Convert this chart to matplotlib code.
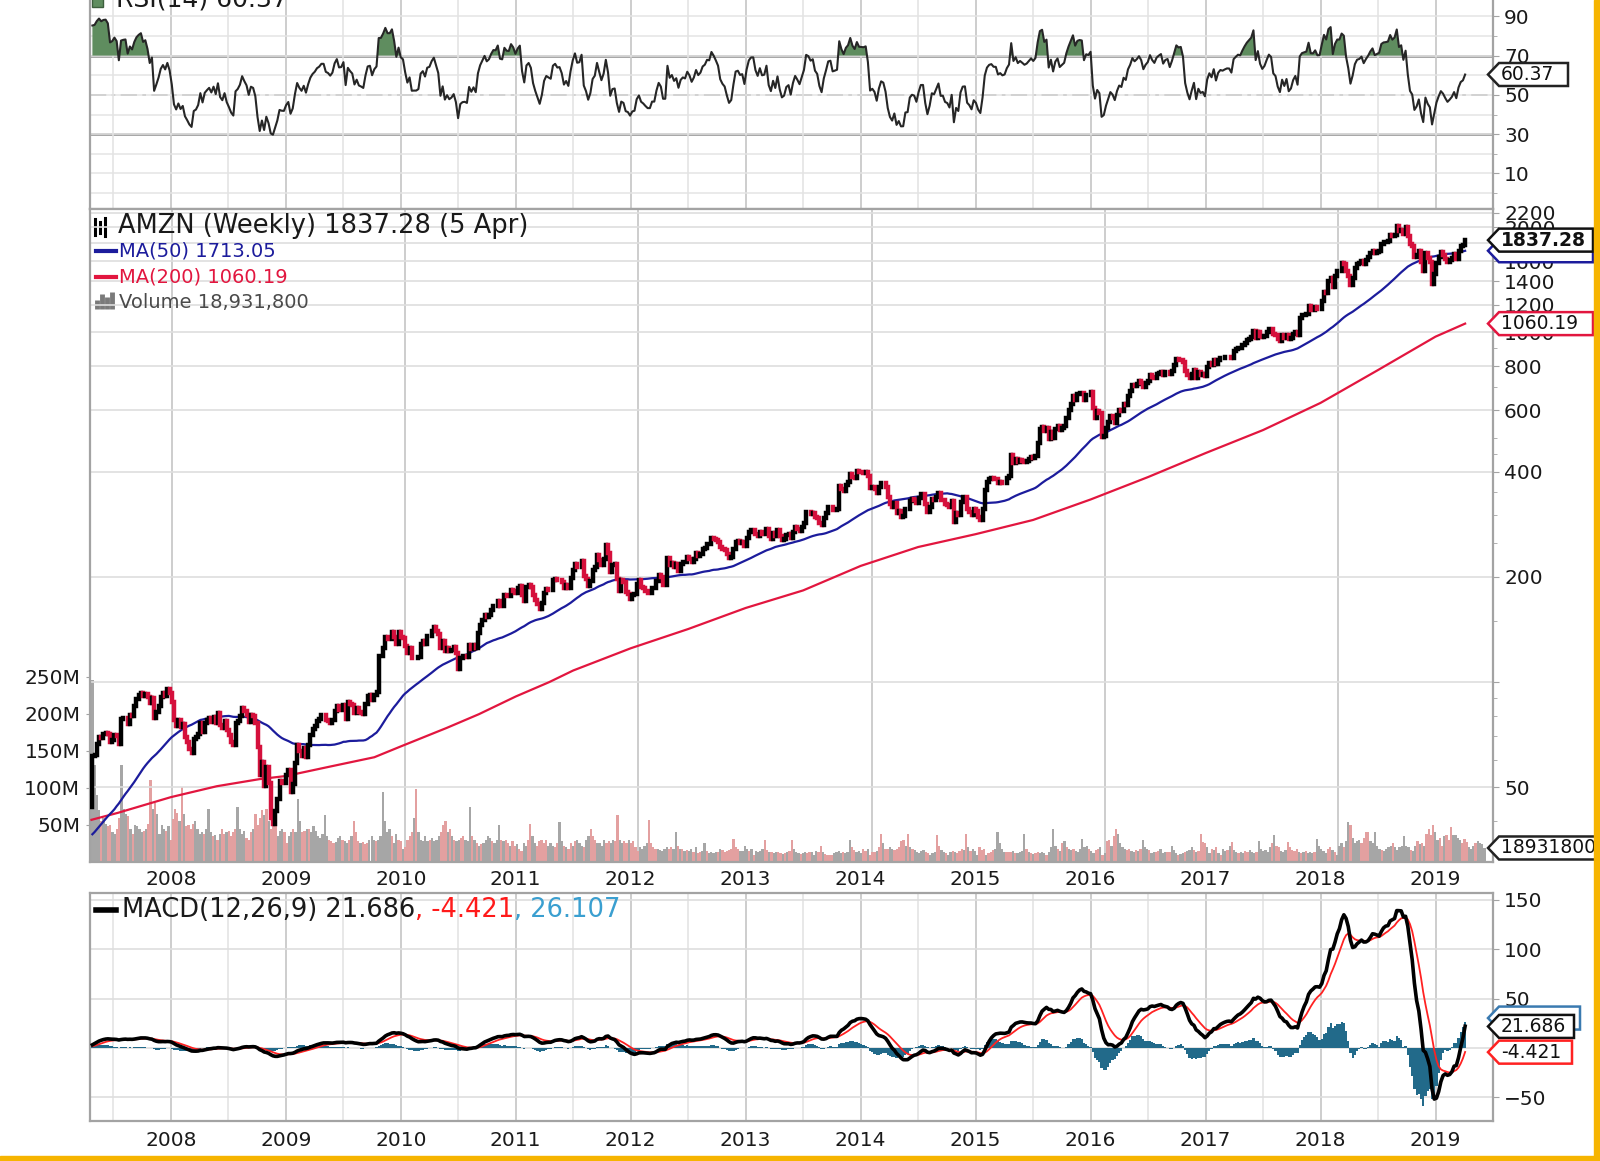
import numpy as np
import pandas as pd
import matplotlib
matplotlib.use("Agg")
import matplotlib.pyplot as plt
from matplotlib.patches import Polygon, Rectangle
from matplotlib.lines import Line2D
from matplotlib.ticker import FixedLocator, NullFormatter

W, H = 1600, 1161
plt.rcParams["font.family"] = ["DejaVu Sans"]

# weekly closes (USD); one year of pre-history feeds MA(50)/RSI/MACD
PRE_2006 = [35.2, 35.6, 34.6, 34.6, 36.4, 35.4, 34.9, 35.9, 38.7, 37.0, 35.2, 35.8, 26.3,
            26.8, 28.2, 30.3, 30.8, 31.0, 31.2, 31.7, 32.4, 32.1, 32.4, 31.9, 31.4, 37.0,
            38.7, 40.0, 39.5, 40.3, 40.0, 38.5, 39.7, 39.0, 39.5, 38.7, 37.8, 37.5, 37.6,
            36.0, 37.8, 39.5, 40.0, 38.9, 39.7, 38.5, 40.4, 39.8, 40.0, 41.9, 44.0]
C2007 = [61.3, 62.0, 66.4, 69.9, 69.4, 71.1, 71.5, 70.9, 67.6, 68.4, 70.6, 70.0, 66.4, 78.3,
         78.9, 79.2, 76.0, 80.6, 79.9, 85.2, 89.3, 91.6, 93.2, 91.2, 92.5, 90.5, 87.0, 90.0,
         79.0, 82.0, 85.5, 90.6, 93.0, 91.5, 95.5, 93.0]
C2008 = [87.7, 78.0, 75.0, 77.7, 74.6, 75.9, 69.9, 67.4, 64.5, 62.8, 68.9, 69.5, 71.3, 76.5,
         72.0, 76.5, 77.8, 78.9, 77.0, 79.6, 76.6, 81.6, 75.6, 74.1, 77.2, 73.0, 70.5, 67.6,
         66.0, 76.4, 77.6, 79.8, 84.5, 82.5, 80.8, 76.7, 80.6, 80.1, 76.6, 65.3, 54.3, 59.0,
         50.6, 57.2, 51.6, 40.9, 39.3, 42.7, 46.4, 52.2, 51.6, 51.5]
C2009 = [54.4, 56.0, 48.4, 51.0, 58.8, 66.1, 63.4, 61.7, 64.8, 61.1, 66.3, 70.7, 73.3, 74.9,
         77.4, 78.5, 80.5, 80.5, 77.7, 77.3, 76.4, 77.9, 82.9, 85.5, 83.0, 83.2, 85.8, 78.4,
         87.9, 86.7, 85.8, 81.7, 84.1, 81.9, 81.5, 81.0, 86.6, 91.5, 91.9, 88.9, 92.0, 93.5,
         118.5, 118.8, 125.0, 135.0, 133.0, 133.0, 139.3, 135.0, 128.5, 139.0]
C2010 = [134.5, 133.5, 127.1, 121.4, 125.4, 117.4, 117.5, 117.5, 118.4, 128.9, 130.9, 128.3,
         135.1, 135.8, 140.5, 143.6, 140.4, 137.1, 125.0, 131.2, 122.6, 125.5, 122.8, 123.8,
         125.8, 121.0, 109.1, 117.3, 118.5, 118.7, 118.0, 127.6, 124.8, 127.6, 124.9, 138.4,
         145.8, 150.7, 155.8, 153.1, 155.2, 160.9, 165.3, 165.2, 170.8, 165.1, 164.8, 177.3,
         176.0, 175.9, 183.9, 182.6, 180.0]
C2011 = [185.5, 188.8, 177.4, 171.1, 186.6, 189.3, 186.6, 177.2, 171.7, 166.9, 161.8, 168.3,
         180.1, 184.9, 183.9, 183.1, 195.8, 197.9, 195.8, 196.2, 193.0, 186.5, 189.2, 186.4,
         198.1, 209.5, 218.3, 212.9, 213.5, 222.5, 201.5, 196.7, 188.8, 194.9, 209.5, 213.5,
         231.0, 223.6, 216.2, 224.7, 246.7, 234.8, 206.8, 216.5, 217.4, 197.1, 182.4, 196.0,
         194.0, 180.5, 179.0, 173.1]
C2012 = [177.6, 178.4, 190.9, 195.4, 187.7, 185.5, 182.5, 180.0, 180.0, 185.5, 185.5, 195.0,
         202.5, 199.5, 189.0, 189.0, 226.9, 215.6, 219.5, 213.9, 217.3, 208.2, 217.8, 221.0,
         220.1, 228.4, 225.5, 220.3, 225.0, 233.8, 230.0, 232.8, 240.0, 242.2, 248.3, 248.0,
         259.1, 257.0, 254.3, 251.3, 243.0, 240.0, 238.2, 232.1, 226.5, 228.4, 239.9, 252.1,
         253.0, 250.4, 251.1, 245.2]
C2013 = [258.5, 268.9, 272.7, 272.8, 265.5, 261.9, 269.5, 265.1, 265.7, 274.4, 261.8, 257.2,
         266.5, 261.1, 272.5, 262.1, 254.8, 256.4, 264.2, 266.0, 258.3, 269.2, 276.9, 274.0,
         270.6, 277.7, 285.6, 307.0, 306.1, 303.0, 305.0, 297.3, 295.0, 286.0, 280.9, 294.6,
         304.3, 316.8, 317.9, 310.0, 310.9, 312.0, 363.4, 356.6, 352.4, 366.4, 373.0, 393.6,
         386.9, 384.0, 402.2, 398.1]
C2014 = [397.9, 397.7, 399.6, 387.6, 358.7, 361.1, 357.4, 346.8, 362.1, 372.1, 370.6, 360.6,
         338.5, 323.7, 317.1, 324.9, 303.8, 308.0, 297.6, 297.7, 312.2, 312.6, 329.7, 333.2,
         332.2, 324.6, 336.0, 345.0, 345.1, 324.0, 307.1, 316.8, 333.0, 331.6, 339.0, 346.4,
         331.2, 331.3, 323.4, 322.0, 316.4, 330.0, 287.1, 305.5, 299.9, 327.8, 338.1, 338.6,
         312.0, 307.5, 299.9, 313.0]
C2015 = [308.5, 296.9, 290.7, 312.4, 354.5, 374.3, 381.8, 383.7, 380.2, 380.1, 370.6, 373.2,
         370.6, 372.1, 382.7, 389.5, 445.1, 423.0, 433.7, 426.0, 431.4, 429.2, 426.9, 429.4,
         434.9, 440.1, 437.7, 443.5, 483.0, 529.4, 536.2, 522.6, 531.5, 494.5, 518.0, 499.0,
         529.4, 540.3, 526.1, 532.5, 538.8, 570.8, 599.0, 625.9, 659.4, 642.4, 668.5, 673.3,
         672.6, 640.2, 664.1, 662.8]
C2016 = [675.9, 607.1, 570.2, 596.4, 587.0, 502.1, 507.1, 534.1, 555.2, 577.5, 569.6, 552.1,
         579.9, 598.5, 594.6, 625.9, 620.5, 659.6, 679.1, 709.9, 702.8, 712.2, 725.5, 717.9,
         699.6, 715.6, 725.7, 753.8, 744.9, 739.6, 758.8, 766.6, 772.6, 757.3, 769.2, 772.4,
         760.1, 778.5, 804.7, 837.3, 834.1, 836.5, 822.9, 776.3, 755.1, 739.0, 760.2, 780.4,
         740.3, 768.7, 757.8, 760.6, 749.9]
C2017 = [795.9, 817.1, 808.3, 835.7, 810.1, 836.5, 846.6, 845.2, 849.3, 852.5, 852.3, 845.6,
         886.5, 894.9, 902.4, 901.5, 918.4, 934.3, 948.9, 959.8, 971.5, 1011.3, 964.9, 1003.7,
         978.8, 968.0, 978.8, 1001.8, 1024.4, 1020.0, 987.6, 982.0, 958.5, 945.3, 980.6, 965.9,
         986.8, 956.7, 964.7, 989.6, 1002.9, 982.9, 1100.9, 1120.7, 1125.4, 1130.0, 1187.0,
         1162.4, 1162.0, 1179.1, 1168.4, 1169.5]
C2018 = [1229.1, 1305.2, 1294.6, 1402.1, 1429.9, 1350.5, 1448.7, 1500.0, 1500.3, 1578.9,
         1571.7, 1495.6, 1447.3, 1371.0, 1430.8, 1527.8, 1572.6, 1580.0, 1603.0, 1574.4,
         1610.2, 1641.5, 1684.0, 1715.7, 1690.0, 1699.8, 1710.6, 1796.6, 1813.7, 1817.3,
         1823.3, 1896.2, 1882.2, 1905.4, 2012.7, 1952.1, 1970.2, 1915.0, 2003.0, 1889.7,
         1788.6, 1764.0, 1642.8, 1665.5, 1712.4, 1593.4, 1502.1, 1690.2, 1629.1, 1591.9,
         1377.5, 1470.9]
C2019 = [1575.4, 1640.6, 1696.2, 1670.6, 1626.2, 1588.2, 1608.0, 1631.6, 1671.7, 1620.8,
         1712.4, 1764.8, 1780.8, 1837.28]

# weekly volume, millions of shares
V2007 = [246, 131, 90, 70, 55, 60, 52, 48, 50, 40, 38, 45, 60, 131, 72, 65, 62, 45, 38, 50,
         48, 44, 40, 42, 45, 52, 111, 72, 80, 65, 38, 50, 45, 42, 48, 30]
V2008 = [58, 72, 66, 55, 101, 65, 48, 50, 45, 52, 55, 45, 38, 40, 38, 45, 72, 40, 35, 36, 30,
         38, 45, 38, 40, 42, 35, 40, 45, 74, 45, 38, 42, 32, 30, 40, 45, 65, 50, 60, 70, 63,
         72, 55, 45, 55, 58, 35, 42, 45, 40, 25]
V2009 = [35, 40, 45, 40, 85, 55, 40, 42, 45, 45, 40, 48, 42, 35, 32, 38, 63, 35, 30, 28, 25,
         27, 32, 35, 30, 28, 25, 30, 35, 55, 40, 28, 25, 27, 24, 25, 30, 35, 30, 28, 30, 35,
         95, 55, 40, 45, 35, 25, 38, 30, 28, 18]
V2010 = [20, 30, 35, 40, 60, 99, 40, 30, 28, 35, 28, 30, 32, 28, 30, 35, 40, 50, 55, 40, 45,
         35, 30, 28, 30, 32, 35, 30, 28, 74, 35, 30, 25, 22, 24, 25, 30, 35, 32, 28, 25, 30,
         50, 30, 28, 30, 25, 22, 28, 22, 24, 18, 15]
V2011 = [25, 22, 30, 52, 35, 25, 22, 28, 30, 25, 30, 22, 25, 22, 20, 25, 54, 28, 22, 20, 18,
         25, 22, 28, 30, 25, 22, 20, 30, 35, 45, 35, 30, 25, 25, 22, 30, 25, 28, 25, 30, 28,
         63, 30, 25, 28, 25, 30, 25, 28, 20, 15]
V2012 = [20, 18, 22, 25, 57, 25, 20, 18, 18, 16, 15, 18, 20, 18, 20, 18, 40, 22, 18, 17, 15,
         16, 15, 17, 14, 20, 12, 14, 15, 25, 15, 12, 13, 12, 13, 14, 18, 16, 14, 15, 16, 18,
         31, 20, 18, 15, 15, 22, 18, 15, 17, 10]
V2013 = [15, 14, 15, 18, 30, 16, 13, 14, 12, 13, 14, 12, 11, 12, 14, 15, 30, 18, 13, 12, 11,
         12, 13, 12, 14, 13, 10, 15, 14, 22, 14, 11, 10, 10, 9, 12, 13, 15, 12, 13, 12, 14,
         30, 20, 16, 14, 15, 12, 18, 15, 17, 10]
V2014 = [13, 14, 15, 20, 38, 25, 18, 17, 20, 18, 16, 18, 20, 28, 30, 22, 38, 20, 18, 16, 14,
         12, 15, 16, 14, 12, 10, 12, 14, 36, 22, 16, 14, 12, 10, 14, 15, 14, 12, 15, 18, 16,
         38, 20, 15, 18, 15, 10, 20, 16, 18, 10]
V2015 = [12, 14, 16, 18, 40, 25, 18, 14, 13, 14, 13, 15, 12, 12, 14, 15, 38, 18, 14, 12, 11,
         12, 13, 12, 14, 12, 10, 14, 20, 45, 22, 18, 15, 25, 28, 20, 18, 16, 18, 15, 14, 18,
         31, 20, 22, 18, 15, 12, 16, 18, 20, 10]
V2016 = [12, 28, 30, 22, 35, 45, 38, 25, 20, 18, 16, 17, 15, 14, 16, 15, 18, 30, 20, 18, 16,
         12, 14, 13, 15, 18, 12, 14, 13, 14, 22, 16, 12, 10, 11, 12, 14, 15, 16, 20, 16, 14,
         15, 38, 27, 25, 20, 12, 18, 16, 20, 12, 10]
V2017 = [18, 15, 16, 22, 27, 16, 14, 12, 13, 12, 15, 14, 16, 14, 12, 13, 28, 18, 15, 16, 14,
         20, 25, 36, 22, 20, 15, 14, 16, 27, 20, 16, 15, 18, 14, 12, 13, 15, 12, 13, 12, 14,
         31, 22, 18, 15, 12, 18, 20, 16, 14, 10]
V2018 = [22, 25, 20, 28, 54, 50, 32, 25, 28, 30, 26, 32, 40, 40, 28, 25, 40, 22, 18, 16, 15,
         18, 20, 22, 25, 20, 16, 20, 22, 35, 22, 20, 16, 15, 22, 28, 24, 26, 22, 38, 45, 36,
         50, 40, 30, 32, 22, 35, 36, 30, 47, 36]
V2019 = [36, 32, 30, 25, 31, 27, 20, 18, 22, 25, 28, 26, 24, 18.93]

# MA(200) (fractional year, value)
MA200_T = [2007.31, 2007.54, 2008.0, 2008.4, 2008.77, 2009.0, 2009.4, 2009.77, 2010.0, 2010.4,
           2010.68, 2011.0, 2011.29, 2011.5, 2012.0, 2012.5, 2013.0, 2013.5, 2014.0, 2014.5,
           2015.0, 2015.5, 2016.0, 2016.5, 2017.0, 2017.5, 2018.0, 2018.5, 2019.0, 2019.2575]
MA200_V = [40.4, 42.3, 46.9, 50.4, 52.8, 53.9, 57.5, 61.0, 65.5, 74.0, 81.0, 91.0, 100.0,
           108.0, 125.0, 141.9, 163.0, 183.0, 215.0, 243.5, 265.0, 291.0, 333.0, 386.0, 452.0,
           526.0, 629.0, 781.0, 973.0, 1060.19]

YEARS = list(range(2008, 2020))
PRICE_TICKS = [50, 100, 200, 400, 600, 800, 1000, 1200, 1400, 1600, 1800, 2000, 2200]
PRICE_LABELS = ["50", "", "200", "400", "600", "800", "1000", "1200", "1400", "1600", "1800",
                "2000", "2200"]
VOL_TICKS = [50, 100, 150, 200, 250]

UP, DOWN = "#000000", "#d5103c"
BLUE, RED = "#1c1c9c", "#e2163f"
SPINE = "#a3a3a3"
TEAL = "#226a8a"

closes = PRE_2006 + C2007 + C2008 + C2009 + C2010 + C2011 + C2012 + C2013 + C2014 + \
    C2015 + C2016 + C2017 + C2018 + C2019
volume = np.array(V2007 + V2008 + V2009 + V2010 + V2011 + V2012 + V2013 + V2014 + V2015 +
                  V2016 + V2017 + V2018 + V2019)
s = pd.Series(closes, dtype=float)
dates = pd.date_range(end="2019-04-05", periods=len(s), freq="W-FRI")
tt = np.asarray(dates.year + (dates.dayofyear - 1) / (365 + dates.is_leap_year.astype(int)))

# indicators
ma50 = s.rolling(50).mean()
ema12 = s.ewm(span=12, adjust=False).mean()
ema26 = s.ewm(span=26, adjust=False).mean()
macd = ema12 - ema26
signal = macd.ewm(span=9, adjust=False).mean()
hist = macd - signal
delta = s.diff()
gain = delta.clip(lower=0).ewm(alpha=1 / 14, adjust=False).mean()
loss = (-delta.clip(upper=0)).ewm(alpha=1 / 14, adjust=False).mean()
rsi = 100 - 100 / (1 + gain / loss)

n0 = len(PRE_2006)
t = tt[n0:]
close = s.values[n0:]
prev = s.shift(1).values[n0:]
up = close >= prev
lo, hi = np.minimum(prev, close), np.maximum(prev, close)
rsi_v, macd_v, sig_v, hist_v = rsi.values[n0:], macd.values[n0:], signal.values[n0:], hist.values[n0:]
X0, X1 = 2007.297, 2019.33
WEEK = 7 / 365.25

fig = plt.figure(figsize=(W / 100, H / 100), dpi=100)


def rect(top, bottom, left=90, right=1493):
    return [left / W, 1 - bottom / H, (right - left) / W, (bottom - top) / H]


def frame(a, labels=False):
    for sp in a.spines.values():
        sp.set_color(SPINE)
        sp.set_linewidth(1.6)
    a.set_xlim(X0, X1)
    a.set_xticks(YEARS)
    a.set_xticks([y - 0.5 for y in YEARS] + [2019.5], minor=True)
    a.tick_params(axis="x", which="both", length=0, labelbottom=labels,
                  labelsize=14.5, pad=6, labelcolor="#1a1a1a")
    a.tick_params(axis="y", which="both", left=False, labelleft=False, right=True,
                  labelright=True, labelsize=14.5, color=SPINE, labelcolor="#1a1a1a", pad=4)
    a.tick_params(axis="y", which="major", length=4)
    a.tick_params(axis="y", which="minor", length=3)


def xgrid(a):
    a.grid(True, axis="x", which="major", color="#c9c9c9", lw=1.3, zorder=0)
    a.grid(True, axis="x", which="minor", color="#e2e2e2", lw=1.1, zorder=0)


# ---- RSI panel (top edge runs off the figure, as in the screenshot)
ax_r = fig.add_axes(rect(-12, 209))
frame(ax_r)
xgrid(ax_r)
ax_r.set_ylim(-8.1, 104.4)
ax_r.set_yticks([90, 70, 50, 30, 10])
ax_r.set_yticks(range(0, 101, 10), minor=True)
ax_r.yaxis.set_minor_formatter(NullFormatter())
ax_r.grid(True, axis="y", which="both", color="#e4e4e4", lw=1.1)
ax_r.axhline(70, color="#8c8c8c", lw=1.8, zorder=1)
ax_r.axhline(30, color="#8c8c8c", lw=1.8, zorder=1)
ax_r.axhline(50, color="#8c8c8c", lw=1.3, ls=(0, (9, 3, 2, 3)), zorder=1)
ax_r.fill_between(t, rsi_v, 70, where=rsi_v > 70, interpolate=True, color="#5f8d5f", lw=0, zorder=2)
ax_r.fill_between(t, rsi_v, 30, where=rsi_v < 30, interpolate=True, color="#5f8d5f", lw=0, zorder=2)
ax_r.plot(t, rsi_v, color="#262626", lw=1.5, zorder=3)

# ---- price panel: volume underneath, bars + moving averages on a log axis above
ax_v = fig.add_axes(rect(209, 862))
ax_v.set_xlim(X0, X1)
xgrid(ax_v)
ax_v.set_ylim(0, 882)
ax_v.bar(t, volume, width=WEEK, color=np.where(up, "#a6a6a6", "#e3a0a0"), lw=0,
         antialiased=False, zorder=2)
ax_v.set_yticks(VOL_TICKS)
ax_v.set_yticklabels([f"{v}M" for v in VOL_TICKS])
ax_v.tick_params(axis="y", left=True, labelleft=True, length=3, color=SPINE, labelsize=14.5,
                 labelcolor="#1a1a1a", pad=4)
ax_v.tick_params(axis="x", which="both", length=0, labelbottom=False)
for sp in ax_v.spines.values():
    sp.set_visible(False)
ax_v.set_zorder(1)

ax = fig.add_axes(rect(209, 862))
ax.set_yscale("log")
frame(ax, labels=True)
ax.set_ylim(30.6, 2255)
ax.set_yticks(PRICE_TICKS)
ax.set_yticklabels(PRICE_LABELS)
ax.yaxis.set_minor_locator(FixedLocator([40, 60, 70, 80, 90, 150, 250, 300, 350, 450, 500,
                                         700, 900]))
ax.yaxis.set_minor_formatter(NullFormatter())
ax.grid(True, axis="y", which="major", color="#dedede", lw=1.2)
ax.set_xticklabels([str(y) for y in YEARS])
ax.set_zorder(2)
ax.patch.set_visible(False)
ax.plot(MA200_T, MA200_V, color=RED, lw=1.6, zorder=3)
ax.plot(t, ma50.values[n0:], color=BLUE, lw=1.6, zorder=3)
ax.vlines(t, lo, hi, colors=np.where(up, UP, DOWN), lw=3.2, capstyle="projecting", zorder=4)

# ---- MACD panel
ax_m = fig.add_axes(rect(893, 1121))
frame(ax_m, labels=True)
xgrid(ax_m)
ax_m.set_ylim(-74.3, 157.1)
ax_m.set_yticks([-50, 0, 50, 100, 150])
ax_m.grid(True, axis="y", which="major", color="#dedede", lw=1.2)
ax_m.set_xticklabels([str(y) for y in YEARS])
ax_m.tick_params(axis="x", pad=7)
ax_m.bar(t, hist_v, width=WEEK, color=TEAL, lw=0, zorder=2)
ax_m.plot(t, sig_v, color="#ff2222", lw=1.3, zorder=3)
ax_m.plot(t, macd_v, color="#000000", lw=2.6, zorder=4)


# ---- legends (figure pixel coordinates, y measured from the top)
def ftext(x, y, txt, **kw):
    return fig.text(x / W, 1 - y / H, txt, va="center", ha="left", **kw)


def fline(x0, x1, y0, y1, **kw):
    fig.add_artist(Line2D([x0 / W, x1 / W], [1 - y0 / H, 1 - y1 / H],
                          transform=fig.transFigure, **kw))


fig.add_artist(Rectangle((92 / W, 1 - 7 / H), 11 / W, 13 / H, transform=fig.transFigure,
                         fc="#5f8d5f", ec="#3d5f3d", lw=1))
ftext(116, 0, "RSI(14) 60.37", fontsize=18, color="#1a1a1a")

for xi, (a, b) in zip([95, 100, 105], [(219, 235), (222, 233), (218, 236)]):
    fline(xi, xi, a, b, color="#000000", lw=2.2)
ftext(118, 226, "AMZN (Weekly) 1837.28 (5 Apr)", fontsize=18.5, color="#1a1a1a")
fline(96, 116, 251, 251, color=BLUE, lw=3)
ftext(119, 251, "MA(50) 1713.05", fontsize=14, color=BLUE)
fline(96, 116, 277, 277, color=RED, lw=3)
ftext(119, 277, "MA(200) 1060.19", fontsize=14, color=RED)
for xi, top in zip([97, 102, 107, 112], [300, 294, 297, 292]):
    fline(xi, xi, top, 309, color="#7a7a7a", lw=3.5, solid_capstyle="butt")
ftext(119, 302, "Volume 18,931,800", fontsize=14, color="#4a4a4a")

fline(96, 116, 910, 910, color="#000000", lw=4)
parts = [("MACD(12,26,9) 21.686", "#1a1a1a"), (", -4.421", "#ff1a1a"), (", 26.107", "#3a9fd0")]
xpos = 122
fig.canvas.draw()
renderer = fig.canvas.get_renderer()
for txt, col in parts:
    tx = ftext(xpos, 910, txt, fontsize=18.5, color=col)
    xpos += tx.get_window_extent(renderer).width


# ---- value tags on the right edge
def tag(a, val, txt, ec, right, bold=False, dy=0):
    y = a.transData.transform((X1, val))[1] + dy
    h = 11.5
    pts = [(1488, y), (1499, y + h), (right, y + h), (right, y - h), (1499, y - h)]
    fig.add_artist(Polygon([(px / W, py / H) for px, py in pts], closed=True,
                           transform=fig.transFigure, fc="white", ec=ec, lw=1.8, zorder=5))
    fig.text(1501 / W, y / H, txt, fontsize=13.5, fontweight="bold" if bold else "normal",
             va="center", ha="left", color="#111111", zorder=6)


tag(ax_r, 60.37, "60.37", "#222222", 1568)
tag(ax, 1713.05, "", BLUE, 1593)
tag(ax, 1837.28, "1837.28", "#111111", 1593, bold=True)
tag(ax, 1060.19, "1060.19", RED, 1593)
tag(ax_v, 18.93, "18931800", "#222222", 1650)
tag(ax_m, 26.107, "", "#3a7ab0", 1580, dy=4)
tag(ax_m, 21.686, "21.686", "#111111", 1574)
tag(ax_m, -4.421, "-4.421", "#ff2222", 1572)

# yellow frame of the screenshot
fig.add_artist(Rectangle((1594 / W, 0), 6 / W, 1, transform=fig.transFigure,
                         color="#f6b400", zorder=10))
fig.add_artist(Rectangle((0, 0), 1, 5 / H, transform=fig.transFigure,
                         color="#f6b400", zorder=10))

fig.savefig("out.png", dpi=100, facecolor="white")
